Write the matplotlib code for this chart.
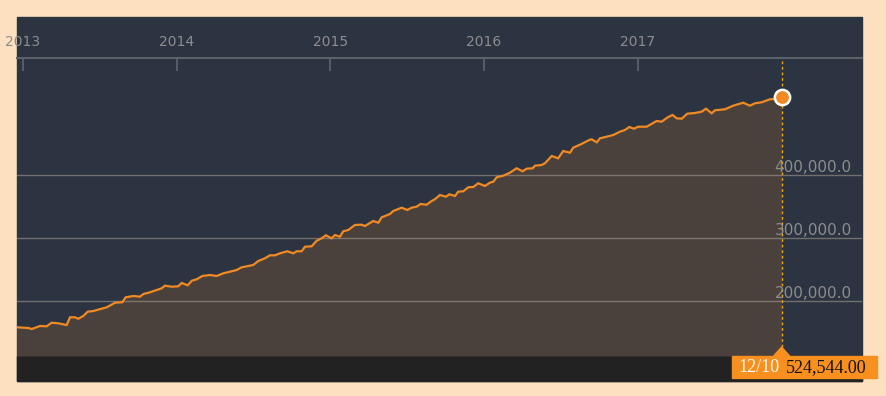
import matplotlib.pyplot as plt
import matplotlib.patches as patches
import matplotlib.transforms as mtransforms

# decimal year / index value
years = [2012.959, 2013.034, 2013.057, 2013.111, 2013.154, 2013.187, 2013.230, 2013.284,
         2013.306, 2013.338, 2013.360, 2013.392, 2013.421, 2013.457, 2013.545, 2013.599,
         2013.646, 2013.668, 2013.718, 2013.761, 2013.783, 2013.826, 2013.902, 2013.924,
         2013.967, 2014.010, 2014.033, 2014.072, 2014.098, 2014.130, 2014.167, 2014.217,
         2014.260, 2014.303, 2014.347, 2014.390, 2014.423, 2014.498, 2014.531, 2014.574,
         2014.607, 2014.640, 2014.672, 2014.720, 2014.759, 2014.781, 2014.813, 2014.835,
         2014.878, 2014.911, 2014.943, 2014.971, 2015.008, 2015.030, 2015.062, 2015.084,
         2015.116, 2015.160, 2015.204, 2015.225, 2015.279, 2015.312, 2015.334, 2015.388,
         2015.409, 2015.464, 2015.500, 2015.529, 2015.561, 2015.587, 2015.626, 2015.659,
         2015.680, 2015.713, 2015.752, 2015.774, 2015.811, 2015.832, 2015.865, 2015.897,
         2015.930, 2015.962, 2016.006, 2016.038, 2016.060, 2016.082, 2016.125, 2016.168,
         2016.212, 2016.251, 2016.277, 2016.316, 2016.331, 2016.375, 2016.396, 2016.440,
         2016.482, 2016.515, 2016.559, 2016.580, 2016.630, 2016.684, 2016.700, 2016.733,
         2016.754, 2016.798, 2016.841, 2016.884, 2016.917, 2016.945, 2016.975, 2017.003,
         2017.058, 2017.123, 2017.155, 2017.198, 2017.227, 2017.253, 2017.286, 2017.322,
         2017.372, 2017.416, 2017.444, 2017.481, 2017.502, 2017.567, 2017.621, 2017.686,
         2017.730, 2017.762, 2017.806, 2017.860, 2017.903, 2017.936]
values = [158300, 157150, 155550, 160300, 159850, 165550, 164600, 161900,
          174150, 174100, 171900, 176200, 183000, 184100, 190000, 197300,
          197950, 205850, 207950, 206850, 211100, 213800, 220150, 224300,
          222700, 223300, 228600, 224900, 232200, 234450, 239700, 241250,
          239700, 243950, 246500, 249200, 253500, 257150, 263500, 267800,
          272550, 272550, 275700, 278900, 275700, 278900, 278900, 286200,
          286800, 295700, 299500, 304300, 299500, 304750, 302050, 310650,
          312700, 320650, 321100, 319050, 327000, 324300, 332850, 338100,
          342850, 348100, 344450, 348100, 349700, 353950, 352850, 358750,
          361450, 368250, 365550, 369350, 366650, 373500, 374150, 380500,
          380950, 386850, 382550, 387800, 389350, 396350, 398900, 403650,
          410650, 405850, 410000, 410650, 414750, 415850, 418550, 430150,
          426500, 438100, 435400, 443350, 448750, 455550, 456650, 451900,
          458250, 460800, 463500, 468750, 471450, 476200, 473500, 476650,
          476650, 485700, 484600, 492050, 495250, 490000, 489350, 497300,
          498400, 500500, 505250, 497950, 502700, 504300, 510000, 514750,
          510000, 513800, 515400, 520150, 520650, 524544]
year_ticks = [2013, 2014, 2015, 2016, 2017]
grid_values = [200000, 300000, 400000]
last_date_label = "12/10"

W, H = 886, 396
fig = plt.figure(figsize=(W / 100, H / 100), dpi=100)
fig.patch.set_facecolor('#fde0bf')


def fx(px):
    return px / W


def fy(py):
    # pixel rows counted from the top
    return 1 - py / H


panel = patches.Rectangle((fx(17), fy(381)), fx(862) - fx(17), fy(17) - fy(381),
                          transform=fig.transFigure, color='#2b3440', zorder=-2)
fig.add_artist(panel)
strip = patches.Rectangle((fx(17), fy(381)), fx(862) - fx(17), fy(356) - fy(381),
                          transform=fig.transFigure, color='#222222', zorder=-1)
fig.add_artist(strip)

ax = fig.add_axes([fx(17), fy(356), fx(862) - fx(17), fy(58) - fy(356)])
ax.set_facecolor('none')
ymin, ymax = 112700, 585700
ax.set_xlim(2012.961, 2018.459)
ax.set_ylim(ymin, ymax)

ax.fill_between(years, values, ymin, color='#4a413c', lw=0, zorder=1)
ax.plot(years, values, color='#f28a24', lw=1.6, zorder=3, solid_joinstyle='miter')

trans = mtransforms.blended_transform_factory(ax.transAxes, ax.transData)
for v in grid_values:
    ax.axhline(v, color='#a09890', lw=1, alpha=0.6, zorder=2)
    ax.text(0.988, v, f"{v:,.1f}", transform=trans, ha='right', va='bottom',
            fontsize=11, color='#8d8d8d', zorder=4)

for s in ['left', 'right', 'bottom']:
    ax.spines[s].set_visible(False)
ax.spines['top'].set_color('#5a616b')
ax.spines['top'].set_linewidth(1.5)
ax.set_yticks([])
ax.set_xticks(year_ticks)
ax.tick_params(axis='x', top=True, bottom=False, labeltop=False, labelbottom=False,
               direction='in', length=9, width=1.3, color='#5a616b')
for yr in year_ticks:
    ax.annotate(str(yr), xy=(yr, 1), xycoords=('data', 'axes fraction'),
                xytext=(0, 11.5), textcoords='offset points', ha='center', va='center',
                fontsize=10, color='#8d8d8d', annotation_clip=False)

# current value marker and guide
ax.axvline(years[-1], ymin=0.03, ymax=1, color='#f0a30a', lw=1, ls=(0, (2, 2)), zorder=2)
ax.plot(years[-1], values[-1], 'o', ms=11, mfc='#f28a24', mec='white', mew=1.8,
        zorder=5, clip_on=False)

# value tag at the bottom
x_last = ax.transData.transform((years[-1], values[-1]))[0]
tag = patches.Rectangle((fx(x_last - 50), fy(378)), fx(145), fy(356) - fy(378),
                        transform=fig.transFigure, color='#f7901e', zorder=3)
fig.add_artist(tag)
tri = patches.Polygon([(fx(x_last), fy(347)), (fx(x_last - 8), fy(356)), (fx(x_last + 8), fy(356))],
                      closed=True, transform=fig.transFigure, color='#f7901e', zorder=3)
fig.add_artist(tri)
fig.text(fx(x_last - 23), fy(367.5), last_date_label, ha='center', va='center',
         family='Liberation Serif', fontsize=13, color='white', zorder=4)
fig.text(fx(x_last + 45), fy(367.5), f"{values[-1]:,.2f}", ha='center', va='center',
         family='Liberation Serif', fontsize=13, color='#111111', zorder=4)

fig.savefig('out.png', dpi=100, facecolor=fig.get_facecolor())
